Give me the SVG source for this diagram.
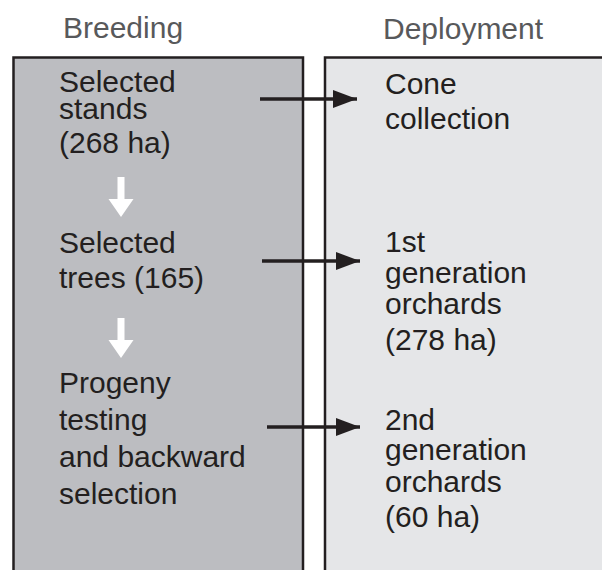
<svg xmlns="http://www.w3.org/2000/svg" width="602" height="570" viewBox="0 0 602 570">
<defs>
<style>
.t{font-family:"Liberation Sans",Arial,sans-serif;font-size:30px;fill:#231f20}
.h{font-family:"Liberation Sans",Arial,sans-serif;font-size:30px;fill:#58595b}
.c{stroke:#231f20;stroke-width:3.5;fill:none}
</style>
<marker id="ah" markerUnits="userSpaceOnUse" markerWidth="24" markerHeight="18" refX="24" refY="9" orient="auto"><path d="M0,0 L24,9 L0,18 Z" fill="#231f20"/></marker>
</defs>
<rect width="602" height="570" fill="#ffffff"/>
<text class="h" x="63" y="38">Breeding</text>
<text class="h" x="383" y="39">Deployment</text>
<g id="breeding-panel"><rect x="13.5" y="57.5" width="289.5" height="520" fill="#bcbdc1" stroke="#231f20" stroke-width="2.5"/></g>
<g id="deployment-panel"><rect x="325" y="57.5" width="290" height="520" fill="#e5e6e8" stroke="#231f20" stroke-width="2.5"/></g>
<g id="selected-stands"><text class="t"><tspan x="59" y="92">Selected</tspan><tspan x="59" y="119">stands</tspan><tspan x="59" y="153">(268 ha)</tspan></text></g>
<g id="selected-trees"><text class="t"><tspan x="59" y="253">Selected</tspan><tspan x="59" y="288">trees (165)</tspan></text></g>
<g id="progeny-testing"><text class="t"><tspan x="59" y="393">Progeny</tspan><tspan x="59" y="430">testing</tspan><tspan x="59" y="467">and backward</tspan><tspan x="59" y="504">selection</tspan></text></g>
<g id="cone-collection"><text class="t"><tspan x="385" y="94">Cone</tspan><tspan x="385" y="129">collection</tspan></text></g>
<g id="first-gen"><text class="t"><tspan x="385" y="252">1st</tspan><tspan x="385" y="283">generation</tspan><tspan x="385" y="314">orchards</tspan><tspan x="385" y="350">(278 ha)</tspan></text></g>
<g id="second-gen"><text class="t"><tspan x="385" y="430">2nd</tspan><tspan x="385" y="460">generation</tspan><tspan x="385" y="492">orchards</tspan><tspan x="385" y="527">(60 ha)</tspan></text></g>
<g id="connectors">
<line class="c" x1="260" y1="99" x2="357" y2="99" marker-end="url(#ah)"/>
<line class="c" x1="262" y1="261" x2="360" y2="261" marker-end="url(#ah)"/>
<line class="c" x1="267" y1="427" x2="360" y2="427" marker-end="url(#ah)"/>
<path d="M117.5,177 h7 v22 h9 l-12.5,18 l-12.5,-18 h9 Z" fill="#ffffff"/>
<path d="M117.5,318 h7 v22 h9 l-12.5,18 l-12.5,-18 h9 Z" fill="#ffffff"/>
</g>
</svg>
